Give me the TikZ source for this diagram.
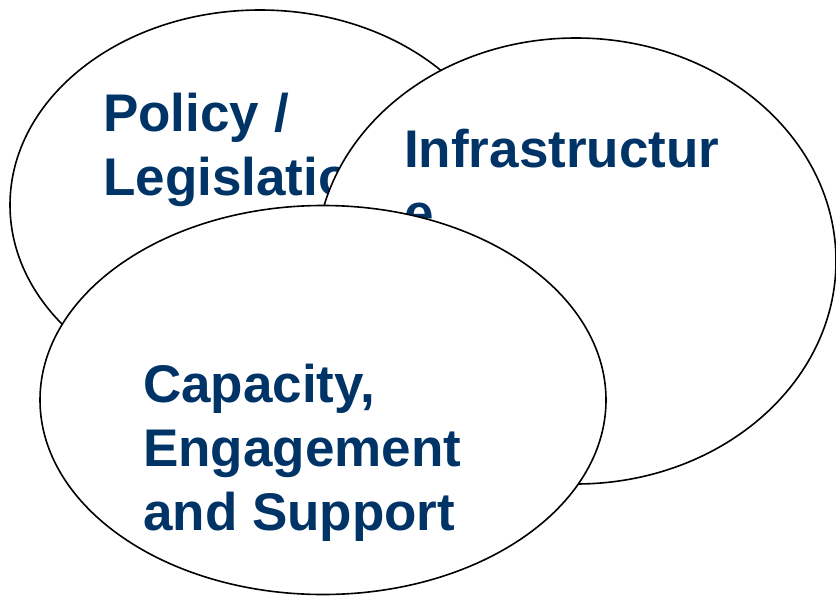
\documentclass[tikz,border=0pt]{standalone}
\usepackage{fontspec}
\setmainfont{Liberation Sans}
\usetikzlibrary{shapes.geometric}
\definecolor{navy}{RGB}{0,51,102}
\begin{document}
\begin{tikzpicture}
		[x=1pt,y=-1pt,
		myellipse/.style={ellipse,draw,fill=white,line width=1.6pt,inner sep=0pt},
		mytext/.style={anchor=base west,inner sep=0pt,align=left,text=navy,
			font=\fontsize{53}{64}\selectfont\bfseries}]
		\useasboundingbox (0,0) rectangle (836,595);
		\node[myellipse,name=pol,minimum width=500pt,minimum height=390pt] at (260,205) {};
		\node[mytext,name=poltext] at (103,195) {Policy /\\Legislation};
		\node[myellipse,name=inf,minimum width=520pt,minimum height=446pt] at (576,261) {};
		\node[mytext,name=inftext] at (404,231) {Infrastructur\\e};
		\node[myellipse,name=cap,minimum width=566pt,minimum height=389pt] at (323,400) {};
		\node[mytext,name=captext] at (143,530) {Capacity,\\Engagement\\and Support};
	\end{tikzpicture}
\end{document}
